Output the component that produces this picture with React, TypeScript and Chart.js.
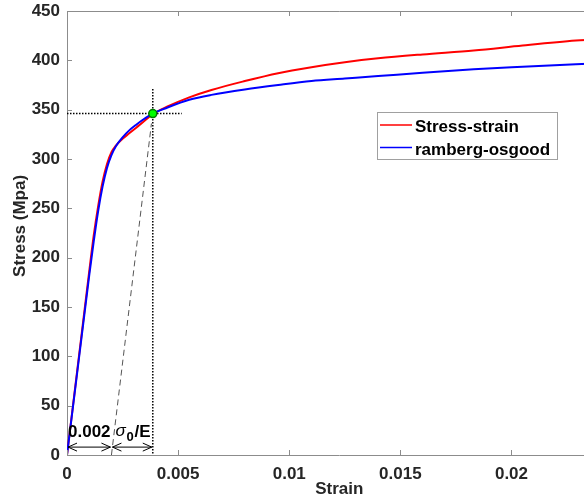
import React, { useEffect, useRef } from "react";
import { Chart, registerables } from "chart.js";
Chart.register(...registerables);

// ---- data ----
const strainExp = [0, 0.0005, 0.001, 0.0012, 0.0014, 0.0016, 0.0018, 0.002, 0.0022, 0.0025, 0.0028, 0.0031, 0.0034, 0.00386, 0.0045, 0.0055, 0.0065, 0.008, 0.0095, 0.011, 0.0125, 0.014, 0.016, 0.0183, 0.0205, 0.0229, 0.0245];
const stressExp = [0, 93, 186, 222, 252, 277, 295, 307, 313.5, 320.5, 326, 331.5, 337, 345.5, 353, 362.5, 370, 379, 387, 393, 398, 402, 406, 410, 415, 420, 422.5];

const strainRO = [0, 0.0005, 0.001, 0.0012, 0.0014, 0.0016, 0.0018, 0.002, 0.0022, 0.0025, 0.0028, 0.0031, 0.0034, 0.00386, 0.0045, 0.0055, 0.0065, 0.008, 0.0095, 0.011, 0.0125, 0.014, 0.016, 0.0183, 0.0205, 0.0229, 0.0245];
const stressRO = [0, 91, 182, 216, 247, 272, 291, 304, 313, 322, 329, 334.5, 339.5, 346, 352, 360, 365, 370.5, 375, 379, 381.5, 384, 387.5, 391, 393.5, 396, 397.5];

const xTicks = [0, 0.005, 0.01, 0.015, 0.02];
const xTickLabels = ["0", "0.005", "0.01", "0.015", "0.02"];
const yTicks = [0, 50, 100, 150, 200, 250, 300, 350, 400, 450];

const yieldStrain = 0.00386;
const yieldStress = 346;
const offsetStrain = 0.002;
const hGuideX = [0, 0.00516];
const vGuideY = [371, 0];
const dashedX = [0.002, 0.0038];
const dashedY = [0, 336];
const arrowStress = 8;
const labelStress = 18;

const seriesNames = ["Stress-strain", "ramberg-osgood"];
const seriesColors = ["#ff0000", "#0000ff"];

const FONT = '"Liberation Sans", Arial, Helvetica, sans-serif';
const TXT = "#262626";
const AXIS = "#8c8c8c";

const pts = (xs: number[], ys: number[]) => xs.map((x, i) => ({ x, y: ys[i] }));

const matlabPlugin = {
  id: "matlabExtras",
  afterDraw(chart: any) {
    const ctx = chart.ctx as CanvasRenderingContext2D;
    const xs = chart.scales.x;
    const ys = chart.scales.y;
    const { left, right, top, bottom } = chart.chartArea;
    ctx.save();
    ctx.strokeStyle = AXIS;
    ctx.lineWidth = 1;
    ctx.beginPath();
    ctx.moveTo(left, top + 0.5);
    ctx.lineTo(right, top + 0.5);
    ctx.moveTo(right - 0.5, top);
    ctx.lineTo(right - 0.5, bottom);
    ctx.stroke();
    const tl = 5;
    ctx.beginPath();
    xTicks.forEach((v) => {
      const px = Math.round(xs.getPixelForValue(v)) + 0.5;
      ctx.moveTo(px, bottom);
      ctx.lineTo(px, bottom - tl);
      ctx.moveTo(px, top);
      ctx.lineTo(px, top + tl);
    });
    yTicks.forEach((v) => {
      const py = Math.round(ys.getPixelForValue(v)) + 0.5;
      ctx.moveTo(left, py);
      ctx.lineTo(left + tl, py);
      ctx.moveTo(right, py);
      ctx.lineTo(right - tl, py);
    });
    ctx.stroke();

    const ay = ys.getPixelForValue(arrowStress);
    const x0 = xs.getPixelForValue(0);
    const x1 = xs.getPixelForValue(offsetStrain);
    const x2 = xs.getPixelForValue(yieldStrain);
    ctx.strokeStyle = "#000";
    ctx.lineWidth = 1;
    const dbl = (a: number, b: number) => {
      ctx.beginPath();
      ctx.moveTo(a, ay);
      ctx.lineTo(b, ay);
      ctx.moveTo(a + 9, ay - 4);
      ctx.lineTo(a, ay);
      ctx.lineTo(a + 9, ay + 4);
      ctx.moveTo(b - 9, ay - 4);
      ctx.lineTo(b, ay);
      ctx.lineTo(b - 9, ay + 4);
      ctx.stroke();
    };
    dbl(x0 + 1, x1 - 1);
    dbl(x1 + 1, x2 - 1);

    const ty = ys.getPixelForValue(labelStress);
    ctx.fillStyle = "#000";
    ctx.textBaseline = "alphabetic";
    ctx.textAlign = "left";
    ctx.font = `bold 17px ${FONT}`;
    ctx.fillText("0.002", x0 + 1, ty);
    ctx.font = `italic 17px ${FONT}`;
    ctx.fillText("σ", x1 + 4, ty - 1);
    ctx.font = `bold 13px ${FONT}`;
    ctx.fillText("0", x1 + 15, ty + 4);
    ctx.font = `bold 17px ${FONT}`;
    ctx.fillText("/E", x1 + 23, ty);

    const lx = 377, ly = 112, lw = 181, lh = 48;
    ctx.fillStyle = "#fff";
    ctx.fillRect(lx, ly, lw, lh);
    ctx.strokeStyle = "#a0a0a0";
    ctx.strokeRect(lx + 0.5, ly + 0.5, lw - 1, lh - 1);
    const rows = [125, 147.5];
    seriesNames.forEach((name, i) => {
      ctx.strokeStyle = seriesColors[i];
      ctx.lineWidth = 1.5;
      ctx.beginPath();
      ctx.moveTo(380, rows[i]);
      ctx.lineTo(412, rows[i]);
      ctx.stroke();
      ctx.fillStyle = "#000";
      ctx.font = `bold 17px ${FONT}`;
      ctx.fillText(name, 415, rows[i] + 7);
    });
    ctx.restore();
  },
};

export default function App() {
  const ref = useRef<HTMLCanvasElement>(null);
  useEffect(() => {
    if (!ref.current) return;
    const chart = new Chart(ref.current, {
      type: "line",
      data: {
        datasets: [
          {
            label: seriesNames[1],
            data: pts(strainRO, stressRO),
            borderColor: seriesColors[1],
            borderWidth: 2,
            pointRadius: 0,
            cubicInterpolationMode: "monotone",
            order: 1,
          },
          {
            label: seriesNames[0],
            data: pts(strainExp, stressExp),
            borderColor: seriesColors[0],
            borderWidth: 2,
            pointRadius: 0,
            cubicInterpolationMode: "monotone",
            order: 2,
          },
          {
            label: "hguide",
            data: pts(hGuideX, [yieldStress, yieldStress]),
            borderColor: "#000",
            borderWidth: 1.5,
            borderDash: [1.5, 1.5],
            pointRadius: 0,
            order: 0,
          },
          {
            label: "vguide",
            data: pts([yieldStrain, yieldStrain], vGuideY),
            borderColor: "#000",
            borderWidth: 1.5,
            borderDash: [1.5, 1.5],
            pointRadius: 0,
            order: 0,
          },
          {
            label: "elastic offset",
            data: pts(dashedX, dashedY),
            borderColor: "#555",
            borderWidth: 1,
            borderDash: [6, 4],
            pointRadius: 0,
            order: 3,
          },
          {
            label: "yield",
            data: [{ x: yieldStrain, y: yieldStress }],
            showLine: false,
            pointRadius: 4,
            pointBackgroundColor: "#00ff00",
            pointBorderColor: "#007a00",
            pointBorderWidth: 1.5,
            order: -1,
          },
        ],
      },
      options: {
        animation: false,
        responsive: false,
        maintainAspectRatio: false,
        devicePixelRatio: 1,
        layout: { padding: { top: 11, left: 0, right: 0, bottom: 0 } },
        plugins: { legend: { display: false }, tooltip: { enabled: false } },
        scales: {
          x: {
            type: "linear",
            min: 0,
            max: 0.0245,
            afterFit: (s: any) => { s.height = 46; s.paddingLeft = 0; s.paddingRight = 0; },
            afterBuildTicks: (s: any) => { s.ticks = xTicks.map((v) => ({ value: v })); },
            grid: { display: true, drawOnChartArea: false, drawTicks: false },
            border: { display: true, color: AXIS, width: 1 },
            ticks: {
              padding: 9,
              color: TXT,
              font: { family: FONT, size: 17, weight: "bold" },
              callback: (v: any) => { const i = xTicks.indexOf(v); return i >= 0 ? xTickLabels[i] : ""; },
              maxRotation: 0,
            },
            title: { display: true, text: "Strain", color: TXT, font: { family: FONT, size: 17, weight: "bold" }, padding: { top: 0, bottom: 1 } },
          },
          y: {
            type: "linear",
            min: 0,
            max: 450,
            afterFit: (s: any) => { s.width = 67; s.paddingTop = 0; s.paddingBottom = 0; },
            afterBuildTicks: (s: any) => { s.ticks = yTicks.map((v) => ({ value: v })); },
            grid: { display: true, drawOnChartArea: false, drawTicks: false },
            border: { display: true, color: AXIS, width: 1 },
            ticks: { padding: 7, color: TXT, font: { family: FONT, size: 17, weight: "bold" } },
            title: { display: true, text: "   Stress (Mpa)", color: TXT, font: { family: FONT, size: 17, weight: "bold" }, padding: { top: 10, bottom: 0 } },
          },
        },
      } as any,
      plugins: [matlabPlugin],
    });
    return () => chart.destroy();
  }, []);
  return (
    <div style={{ position: "absolute", left: 0, top: 0, width: 584, height: 501, overflow: "hidden", background: "#fff" }}>
      <canvas ref={ref} width={617} height={501} style={{ display: "block" }} />
    </div>
  );
}
